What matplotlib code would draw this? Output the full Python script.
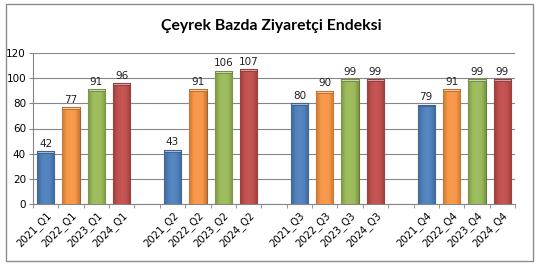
import numpy as np
import matplotlib.pyplot as plt
from matplotlib.colors import LinearSegmentedColormap, to_rgb
from matplotlib.patches import Rectangle

years = ['2021', '2022', '2023', '2024']
quarters = ['Q1', 'Q2', 'Q3', 'Q4']
q1 = [42, 77, 91, 96]
q2 = [43, 91, 106, 107]
q3 = [80, 90, 99, 99]
q4 = [79, 91, 99, 99]
colors = ['#4F81BD', '#F79646', '#9BBB59', '#C0504D']

fig = plt.figure(figsize=(5.43, 2.69), dpi=100)
fig.patches.append(Rectangle((6 / 543, 1 - 261 / 269), 527 / 543, 257 / 269,
                             transform=fig.transFigure, fill=False,
                             edgecolor='#8c8c8c', linewidth=1.0))
ax = fig.add_axes([33 / 543, 1 - 204 / 269, 482 / 543, 151 / 269])

fig.text(0.5, 0.905, 'Çeyrek Bazda Ziyaretçi Endeksi', ha='center', va='center',
         fontsize=11.3, fontweight='bold', family='Lato')


def shade(c, f):
    r = np.array(to_rgb(c))
    if f > 0:
        return tuple(r + (1 - r) * f)
    return tuple(r * (1 + f))


pos = []
labels = []
for qi, vals in enumerate([q1, q2, q3, q4]):
    for yi, v in enumerate(vals):
        x = qi * 5 + yi
        pos.append(x)
        labels.append(years[yi] + '_' + quarters[qi])
        c = colors[yi]
        b = ax.bar(x, v, width=0.68, color=c, edgecolor=shade(c, -0.35),
                   linewidth=0.8, zorder=3)[0]
        cmap = LinearSegmentedColormap.from_list(
            'g', [shade(c, -0.2), c, shade(c, 0.05), c, shade(c, -0.2)])
        grad = np.linspace(0, 1, 64).reshape(1, -1)
        im = ax.imshow(grad, cmap=cmap, extent=[x - 0.34, x + 0.34, 0, v],
                       aspect='auto', zorder=3.5)
        im.set_clip_path(b)
        ax.add_patch(Rectangle((x - 0.34, v - 1.5), 0.68, 1.5,
                               facecolor=shade(c, 0.45), edgecolor=shade(c, -0.3),
                               linewidth=0.6, zorder=4))
        ax.text(x, v + 2, str(v), ha='center', va='bottom', fontsize=7.5,
                color='#222222', family='DejaVu Sans')

ax.set_xlim(-0.5, 18.5)
ax.set_ylim(0, 120)
ax.set_yticks(range(0, 121, 20))
ax.set_xticks(pos)
ax.set_xticklabels(labels, rotation=45, ha='right', rotation_mode='anchor',
                   fontsize=7.2)
ax.set_xticks(np.arange(-0.5, 19, 1), minor=True)
ax.tick_params(axis='x', which='major', length=0, pad=4)
ax.tick_params(axis='x', which='minor', length=3, color='#868686')
ax.tick_params(axis='y', length=3, color='#868686', labelsize=7.5, pad=2)
ax.yaxis.grid(True, color='#868686', linewidth=0.8, zorder=0)
ax.set_axisbelow(True)
for s in ['top', 'right']:
    ax.spines[s].set_visible(False)
for s in ['left', 'bottom']:
    ax.spines[s].set_color('#868686')
    ax.spines[s].set_linewidth(0.8)

fig.savefig('out.png', dpi=100)
